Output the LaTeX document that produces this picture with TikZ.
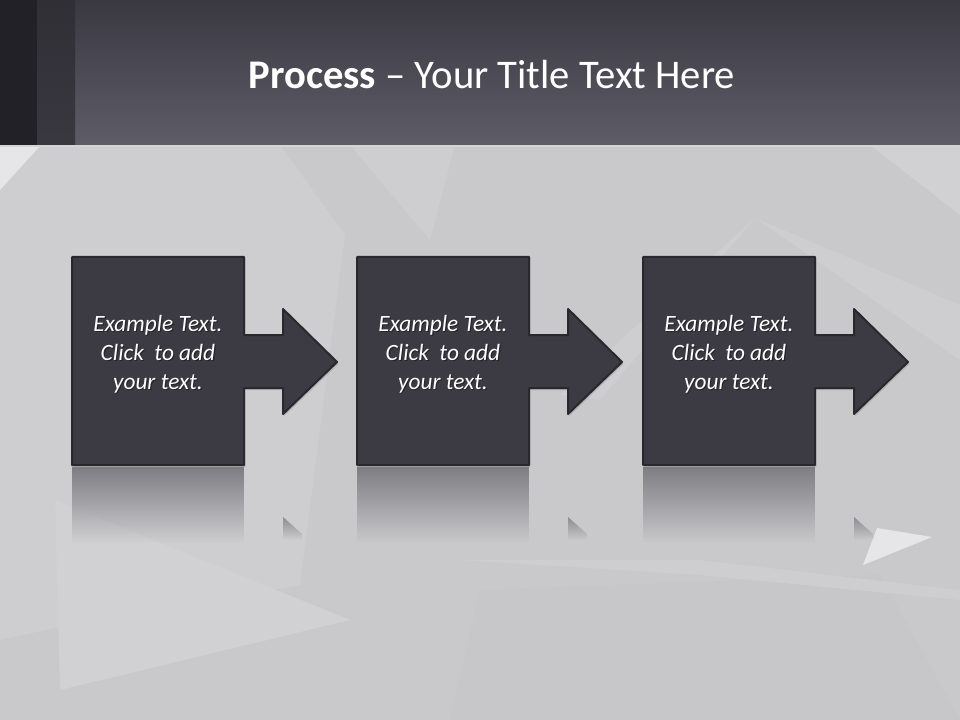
\documentclass[tikz,border=0pt]{standalone}
\usepackage{fontspec}
\setmainfont{Carlito}
\usetikzlibrary{shadows,fadings}
\definecolor{barTop}{HTML}{3A3942}
\definecolor{barBottom}{HTML}{5E5C66}
\definecolor{stripA}{HTML}{222127}
\definecolor{stripB}{HTML}{302F36}
\definecolor{bgBase}{HTML}{C9C9CB}
\definecolor{facetLight}{HTML}{CECED0}
\definecolor{facetDark}{HTML}{C6C6C8}
\definecolor{facetWhite}{HTML}{E6E6E8}
\definecolor{stepFill}{HTML}{3C3B44}
\definecolor{stepEdge}{HTML}{29282D}
\definecolor{reflTop}{HTML}{7E7D83}
\tikzfading[name=reflfade, top color=transparent!0, bottom color=transparent!100]
\newcommand{\stepshape}[1]
{   \fill[stepFill, draw=stepEdge, line width=1.5pt, line join=round,
      drop shadow={shadow xshift=1pt, shadow yshift=-1.5pt, opacity=0.35}]
      (#1.north west) -- (#1.north east) -- ++(0,78) -- ++(39,0) -- ++(0,-26)
      -- ++(54,53) -- ++(-54,52) -- ++(0,-26) -- ++(-39,0)
      -- (#1.south east) -- (#1.south west) -- cycle;
}
\newcommand{\stepreflect}[1]
{   \fill[reflTop, path fading=reflfade] ([yshift=-1.5pt]#1.south west) rectangle ++(172,76);
    \fill[reflTop!80!bgBase, path fading=reflfade] ([xshift=29.25pt,yshift=-39pt]#1.south east)
      -- ++(19,17) -- ++(0,6) -- ++(-19,0) -- cycle;
}
\newcommand{\steptext}{Example Text.\\Click~ to add\\your text.}

\begin{document}
\begin{tikzpicture}[x=0.75pt, y=-0.75pt,
  stepbox/.style={minimum width=129pt, minimum height=156pt, inner sep=0pt, outer sep=0pt},
  steplabel/.style={text=white, font=\fontsize{17.5}{21.75}\selectfont\itshape, align=center},
  stepshadow/.style={text=black, opacity=0.4, font=\fontsize{17.5}{21.75}\selectfont\itshape, align=center},
  titletext/.style={text=white, font=\fontsize{30.5}{36}\selectfont}]

 \useasboundingbox (0,0) rectangle (960,720);
 % background and facets
 \fill[bgBase] (0,145) rectangle (960,720);
 \fill[facetLight] (0,145) -- (280,145) -- (345,235) -- (300,585) -- (55,628) -- (0,640) -- cycle;
 \fill[facetWhite] (0,146) -- (40,146) -- (0,190) -- cycle;
 \fill[facetLight!94!white] (55,500) -- (350,620) -- (60,690) -- cycle;
 \fill[facetLight] (350,145) -- (455,145) -- (430,240) -- cycle;
 \fill[facetLight] (755,218) -- (960,305) -- (960,360) -- cycle;
 \fill[facetLight] (755,218) -- (560,395) -- (600,400) -- cycle;
 \fill[facetLight!94!white] (870,145) -- (960,145) -- (960,215) -- cycle;
 \fill[facetDark!60!bgBase] (480,590) -- (880,575) -- (960,720) -- (450,720) -- cycle;
 \fill[facetLight] (460,560) -- (700,575) -- (960,600) -- (960,590) -- (700,560) -- cycle;
 \fill[facetWhite] (877,528) -- (932,537) -- (863,565) -- cycle;

 % title bar
 \shade[top color=barTop, bottom color=barBottom] (0,0) rectangle (960,145);
 \fill[stripA] (0,0) rectangle (37,145);
 \shade[top color=stripB, bottom color=stripB!80!barBottom] (37,0) rectangle (75,145);
 \fill[bgBase!80!white] (0,145) rectangle (960,147);
 \node[titletext] (title) at (492,75) {\textbf{Process} – Your Title Text Here};

 % steps
 \foreach \i/\cx in {1/158,2/443,3/729}
 {
   \node[stepbox] (s\i) at (\cx,361) {};
   \stepreflect{s\i}
   \stepshape{s\i}
   \node[stepshadow] at ([xshift=0.8pt,yshift=4.45pt]s\i.center) {\steptext};
   \node[steplabel] (t\i) at ([yshift=5.25pt]s\i.center) {\steptext};
 }

\end{tikzpicture}
\end{document}
